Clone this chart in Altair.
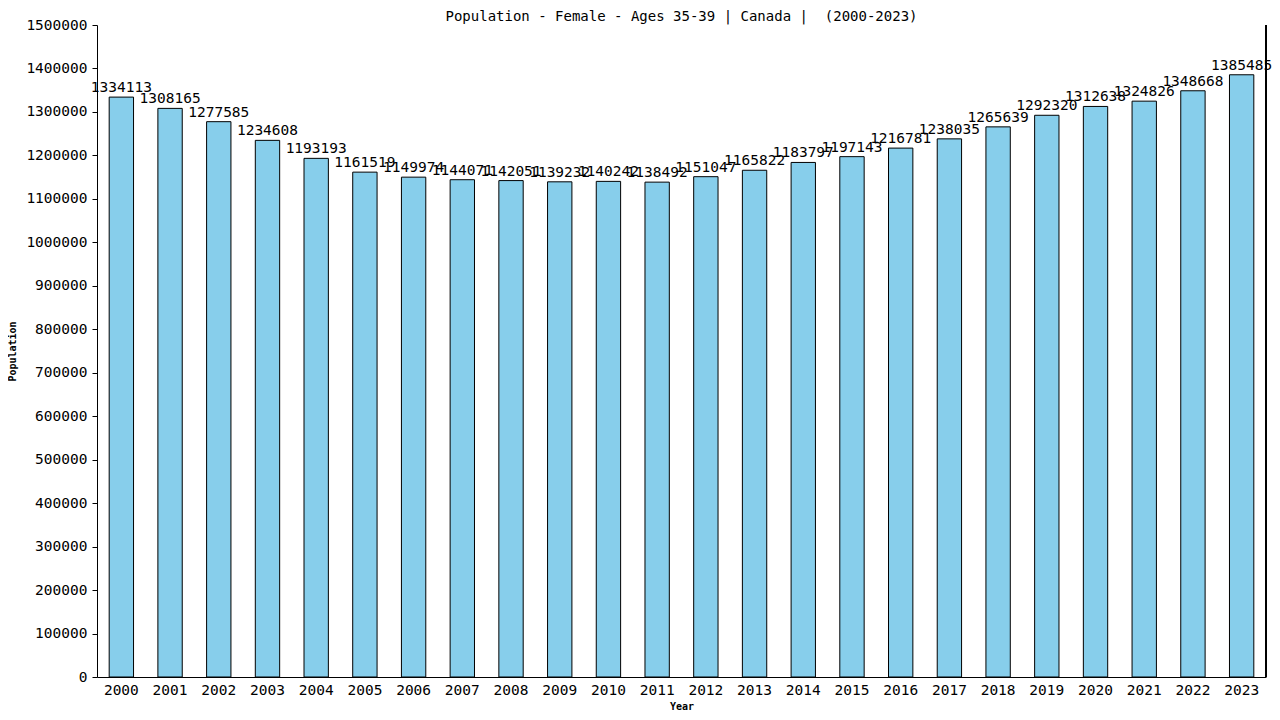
import altair as alt
import pandas as pd

years = [str(y) for y in range(2000, 2024)]
values = [1334113, 1308165, 1277585, 1234608, 1193193, 1161519, 1149974, 1144071,
          1142051, 1139232, 1140242, 1138492, 1151047, 1165822, 1183797, 1197143,
          1216781, 1238035, 1265639, 1292320, 1312638, 1324826, 1348668, 1385485]
y_ticks = list(range(0, 1500001, 100000))

df = pd.DataFrame({"Year": years, "Population": values})

W, H = 1169, 652
FONT = "DejaVu Sans Mono"

x = alt.X("Year:O", title="Year",
          scale=alt.Scale(paddingInner=0.5, paddingOuter=0.25),
          axis=alt.Axis(labelAngle=0, ticks=False, labelPadding=6, labelFont=FONT,
                        labelFontSize=14.5, labelColor="black", titleFont=FONT,
                        titleFontSize=10, titleFontWeight="bold", titlePadding=5,
                        domainColor="black", titleColor="black"))
y = alt.Y("Population:Q", title="Population",
          scale=alt.Scale(domain=[0, 1500000], nice=False),
          axis=alt.Axis(values=y_ticks, format="d", grid=False, tickSize=5,
                        tickColor="black", domainColor="black", labelFont=FONT,
                        labelFontSize=14.5, labelColor="black", labelPadding=5,
                        titleFont=FONT, titleFontSize=10, titleFontWeight="bold",
                        titlePadding=8, titleColor="black"))

base = alt.Chart(df)
bars = base.mark_bar(color="#87CEEB", stroke="black", strokeWidth=1).encode(x=x, y=y)
labels = base.mark_text(baseline="bottom", dy=-2, font=FONT, fontSize=14.5,
                        color="black").encode(x=x, y=y, text=alt.Text("Population:Q", format="d"))
right = base.mark_rule(color="black").encode(
    x=alt.value(W), y=alt.value(0), y2=alt.value(H))

chart = alt.layer(bars, labels, right).properties(
    width=W, height=H,
    title=alt.Title("Population - Female - Ages 35-39 | Canada |\u00a0 (2000-2023)",
                    font=FONT, fontSize=14, fontWeight="normal", color="black",
                    offset=0, dy=7),
    autosize=alt.AutoSizeParams(type="none"),
    padding={"left": 89, "top": 17, "right": 6, "bottom": 40},
    background="white",
).configure_view(stroke="transparent", strokeWidth=0)

chart.save("out.html", embed_options={"renderer": "svg", "actions": False})
